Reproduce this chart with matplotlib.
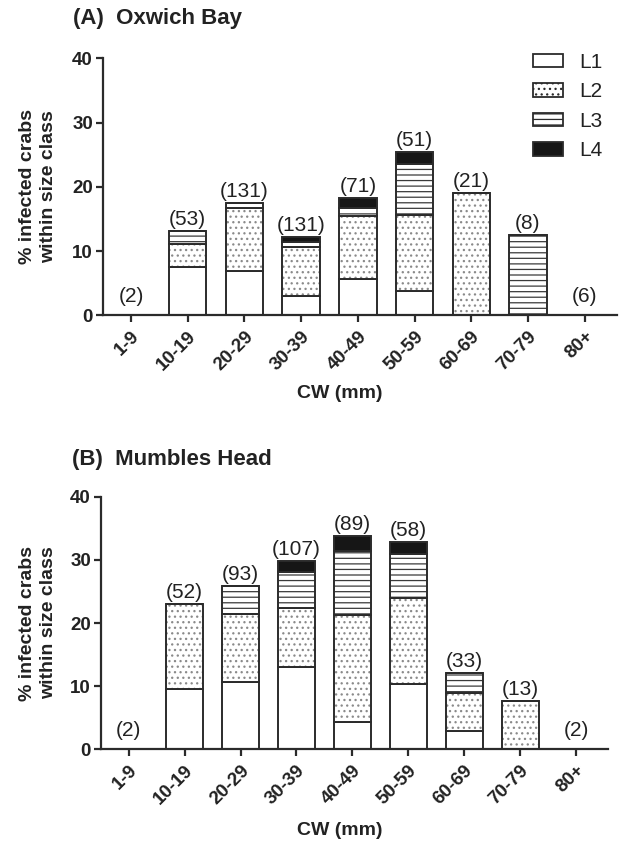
import matplotlib
matplotlib.use("Agg")
import matplotlib.pyplot as plt
from matplotlib.patches import Patch
import numpy as np

plt.rcParams['font.family'] = ['Liberation Sans', 'DejaVu Sans']
plt.rcParams['hatch.linewidth'] = 0.9

categories = ["1-9", "10-19", "20-29", "30-39", "40-49", "50-59", "60-69", "70-79", "80+"]
stages = ["L1", "L2", "L3", "L4"]

# Panel A: Oxwich Bay (% infected crabs per stage)
oxwich_L1 = [0, 7.5, 6.9, 3.0, 5.6, 3.85, 0, 0, 0]
oxwich_L2 = [0, 3.6, 9.75, 7.6, 9.85, 11.7, 19.0, 0, 0]
oxwich_L3 = [0, 2.0, 0.85, 0.8, 1.3, 7.95, 0, 12.5, 0]
oxwich_L4 = [0, 0, 0, 0.8, 1.55, 1.9, 0, 0, 0]
oxwich_n = [2, 53, 131, 131, 71, 51, 21, 8, 6]

# Panel B: Mumbles Head
mumbles_L1 = [0, 9.6, 10.65, 13.1, 4.4, 10.3, 2.95, 0, 0]
mumbles_L2 = [0, 13.4, 10.85, 9.2, 16.9, 13.7, 6.0, 7.7, 0]
mumbles_L3 = [0, 0, 4.35, 5.7, 10.15, 7.0, 3.15, 0, 0]
mumbles_L4 = [0, 0, 0, 1.85, 2.35, 1.8, 0, 0, 0]
mumbles_n = [2, 52, 93, 107, 89, 58, 33, 13, 2]

DARK = "#2b2b2b"
styles = {
    "L1": dict(facecolor="white", hatch=None, hatchcolor=None),
    "L2": dict(facecolor="white", hatch="...", hatchcolor="#8a8a8a"),
    "L3": dict(facecolor="white", hatch="---", hatchcolor="#3a3a3a"),
    "L4": dict(facecolor="#161616", hatch=None, hatchcolor=None),
}

W, H = 621, 847
fig = plt.figure(figsize=(W / 100, H / 100), dpi=100)

def px_rect(l, t, r, b):
    return [l / W, 1 - b / H, (r - l) / W, (b - t) / H]

def draw_panel(ax, series, counts):
    x = np.arange(len(categories))
    bottom = np.zeros(len(categories))
    width = 0.66
    for name, vals in zip(stages, series):
        vals = np.array(vals, dtype=float)
        st = styles[name]
        if st["hatch"]:
            ax.bar(x, vals, width, bottom=bottom, color=st["facecolor"],
                   edgecolor=st["hatchcolor"], hatch=st["hatch"], linewidth=0)
            ax.bar(x, vals, width, bottom=bottom, fill=False,
                   edgecolor=DARK, linewidth=1.4)
        else:
            ax.bar(x, vals, width, bottom=bottom, color=st["facecolor"],
                   edgecolor=DARK, linewidth=1.4)
        bottom = bottom + vals
    for xi, tot, n in zip(x, bottom, counts):
        y = tot + 0.3 if tot > 0 else 1.5
        ax.text(xi, y, f"({n})", ha="center", va="bottom", fontsize=15,
                color="#222222")
    ax.set_xlim(-0.5, 8.57)
    ax.set_ylim(0, 40)
    ax.set_yticks([0, 10, 20, 30, 40])
    ax.set_xticks(x)
    ax.set_xticklabels(categories, rotation=45, ha="right",
                       rotation_mode="anchor", fontweight="bold", fontsize=13.5,
                       color="#222222")
    for lab in ax.get_yticklabels():
        lab.set_fontweight("bold")
        lab.set_fontsize(13.5)
        lab.set_color("#222222")
    for s in ["top", "right"]:
        ax.spines[s].set_visible(False)
    for s in ["left", "bottom"]:
        ax.spines[s].set_linewidth(1.6)
        ax.spines[s].set_color(DARK)
    ax.tick_params(axis="both", direction="out", length=5, width=1.6,
                   color=DARK)
    ax.tick_params(axis="x", pad=4)
    ax.tick_params(axis="y", pad=2)

axA = fig.add_axes(px_rect(102.7, 58.3, 617, 315.3))
draw_panel(axA, [oxwich_L1, oxwich_L2, oxwich_L3, oxwich_L4], oxwich_n)
axB = fig.add_axes(px_rect(100.7, 496.7, 608, 749.3))
draw_panel(axB, [mumbles_L1, mumbles_L2, mumbles_L3, mumbles_L4], mumbles_n)

handles = []
for name in stages:
    st = styles[name]
    handles.append(Patch(facecolor=st["facecolor"], edgecolor=DARK,
                         hatch=st["hatch"], linewidth=1.3, label=name))
leg = fig.legend(handles=handles, loc="upper left", frameon=False,
                 fontsize=15, handlelength=1.45, handleheight=0.6,
                 labelspacing=0.5, handletextpad=0.75, borderpad=0,
                 borderaxespad=0,
                 bbox_to_anchor=(533 / W, 1 - 53 / H))
for t in leg.get_texts():
    t.set_color("#222222")

fig.text(73 / W, 1 - 18.5 / H, "(A)  Oxwich Bay", fontsize=16,
         fontweight="bold", va="center", ha="left", color="#222222")
fig.text(72 / W, 1 - 459 / H, "(B)  Mumbles Head", fontsize=16,
         fontweight="bold", va="center", ha="left", color="#222222")

for ax, cy in [(axA, 187), (axB, 623)]:
    fig.text(38 / W, 1 - cy / H, "% infected crabs\nwithin size class",
             rotation=90, fontsize=14, fontweight="bold", ha="center",
             va="center", color="#222222", linespacing=1.25)

fig.text(340 / W, 1 - 393 / H, "CW (mm)", fontsize=14, fontweight="bold",
         ha="center", va="center", color="#222222")
fig.text(340 / W, 1 - 830 / H, "CW (mm)", fontsize=14, fontweight="bold",
         ha="center", va="center", color="#222222")

fig.savefig("out.png", dpi=100)
